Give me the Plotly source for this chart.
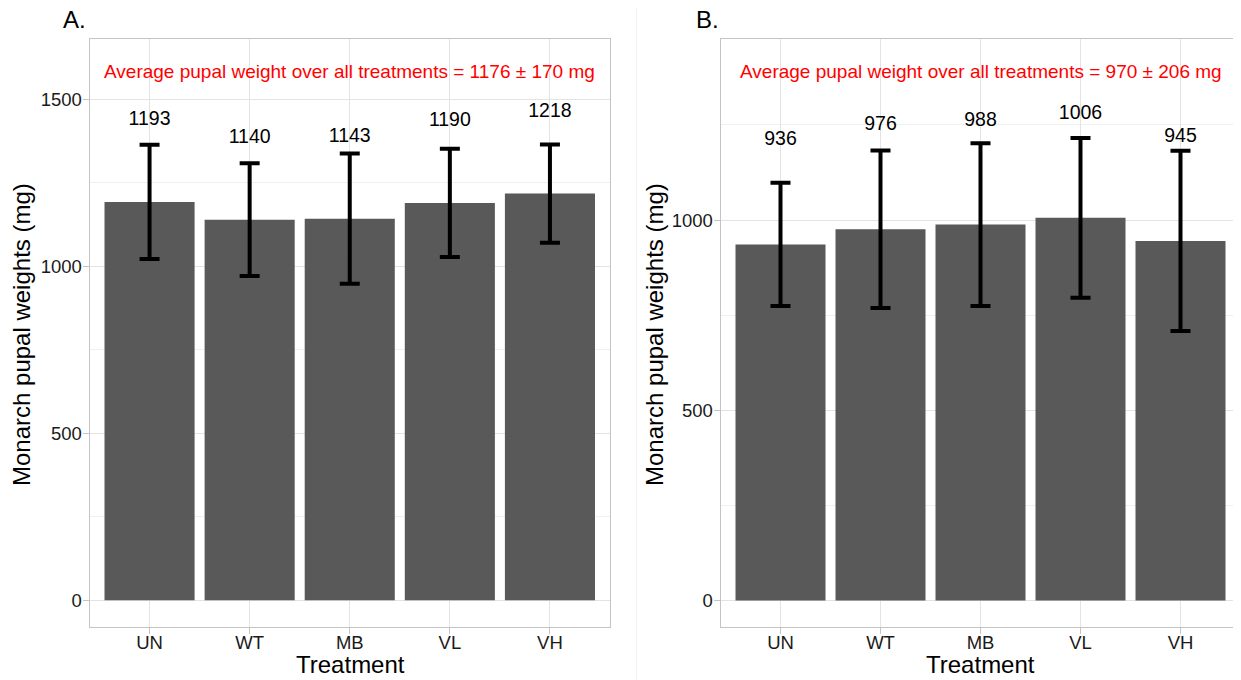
import plotly.graph_objects as go

# ---- data ----
treatments = ["UN", "WT", "MB", "VL", "VH"]
mean_a = [1193, 1140, 1143, 1190, 1218]
sd_a = [171, 169, 195, 162, 147]
mean_b = [936, 976, 988, 1006, 945]
sd_b = [162, 207, 214, 210, 237]
note_a = "Average pupal weight over all treatments = 1176 ± 170 mg"
note_b = "Average pupal weight over all treatments = 970 ± 206 mg"
y_ticks_a = [0, 500, 1000, 1500]
y_ticks_b = [0, 500, 1000]
minor_ticks = [250, 750, 1250]

# ---- style ----
OFF = 8                      # page body margin in the browser
W, H = 1241 - OFF, 680 - OFF
FONT = "Liberation Sans, Arial, sans-serif"
BAR = "#595959"
GRID = "#E3E3E3"
MINOR = "#F0F0F0"
BORDER = "#C4C4C4"
TXT = "#1a1a1a"
label_off_a = 245
label_off_b = 273


def px(x):
    return (x - OFF) / W


def py(y):
    return 1 - (y - OFF) / H


fig = go.Figure()

panels = [
    dict(mean=mean_a, sd=sd_a, xa="x", ya="y", off=label_off_a),
    dict(mean=mean_b, sd=sd_b, xa="x2", ya="y2", off=label_off_b),
]
for p in panels:
    fig.add_trace(go.Bar(
        x=treatments, y=p["mean"], xaxis=p["xa"], yaxis=p["ya"],
        marker=dict(color=BAR, line=dict(width=0)),
        error_y=dict(type="data", array=p["sd"], visible=True,
                     color="black", thickness=4, width=10),
        showlegend=False, hoverinfo="skip",
    ))
    fig.add_trace(go.Scatter(
        x=treatments, y=[m + p["off"] for m in p["mean"]],
        text=[str(m) for m in p["mean"]], mode="text",
        textposition="middle center",
        textfont=dict(family=FONT, size=19.5, color="black"),
        xaxis=p["xa"], yaxis=p["ya"], showlegend=False, hoverinfo="skip",
    ))

dom_y = [py(627), py(39)]
common_x = dict(
    type="category", range=[-0.6, 4.6], showgrid=True, gridcolor=GRID,
    gridwidth=1, showline=True, mirror=True, linecolor=BORDER, linewidth=1,
    ticks="outside", ticklen=6, tickcolor=BORDER, ticklabelstandoff=-7,
    tickfont=dict(family=FONT, size=18.5, color=TXT), zeroline=False,
)
common_y = dict(
    showgrid=True, gridcolor=GRID, gridwidth=1, showline=True, mirror=True,
    linecolor=BORDER, linewidth=1, ticks="outside", ticklen=6,
    tickcolor=BORDER, ticklabelstandoff=-3,
    tickfont=dict(family=FONT, size=18.5, color=TXT),
    zeroline=False,
)

fig.update_layout(
    width=W, height=H, margin=dict(l=0, r=0, t=0, b=0),
    paper_bgcolor="white", plot_bgcolor="white", bargap=0.1,
    xaxis=dict(common_x, domain=[px(89.5), px(610)], anchor="y"),
    yaxis=dict(common_y, domain=dom_y, range=[-80, 1681],
               tickvals=y_ticks_a, anchor="x",
               minor=dict(showgrid=True, gridcolor=MINOR, gridwidth=1,
                          tickvals=minor_ticks, ticks="")),
    xaxis2=dict(common_x, domain=[px(720.5), px(1240.5)], anchor="y2"),
    yaxis2=dict(common_y, domain=dom_y, range=[-70, 1476],
                tickvals=y_ticks_b, anchor="x2",
                minor=dict(showgrid=True, gridcolor=MINOR, gridwidth=1,
                           tickvals=minor_ticks, ticks="")),
)

ann = []
# red notes
ann.append(dict(x="MB", y=1585, xref="x", yref="y", text=note_a,
                showarrow=False, font=dict(family=FONT, size=19, color="red")))
ann.append(dict(x="MB", y=1390, xref="x2", yref="y2", text=note_b,
                showarrow=False, font=dict(family=FONT, size=19, color="red")))
# panel letters
ann.append(dict(x=px(61), y=py(19), xref="paper", yref="paper", text="A.",
                xanchor="left", yanchor="middle", showarrow=False,
                font=dict(family=FONT, size=24, color="black")))
ann.append(dict(x=px(694), y=py(19), xref="paper", yref="paper", text="B.",
                xanchor="left", yanchor="middle", showarrow=False,
                font=dict(family=FONT, size=24, color="black")))
# axis titles
for xc in (22, 655):
    ann.append(dict(x=px(xc), y=py(335), xref="paper", yref="paper",
                    text="Monarch pupal weights (mg)", textangle=-90,
                    xanchor="center", yanchor="middle", showarrow=False,
                    font=dict(family=FONT, size=24, color="black")))
for xc in (350, 980):
    ann.append(dict(x=px(xc), y=py(664), xref="paper", yref="paper",
                    text="Treatment", xanchor="center", yanchor="middle",
                    showarrow=False,
                    font=dict(family=FONT, size=24, color="black")))
fig.update_layout(annotations=ann)

# faint separator between the two panels
fig.add_shape(type="line", xref="paper", yref="paper",
              x0=px(636.5), x1=px(636.5), y0=0, y1=1,
              line=dict(color="#F3F3F3", width=1))

fig.write_html("out.html")
